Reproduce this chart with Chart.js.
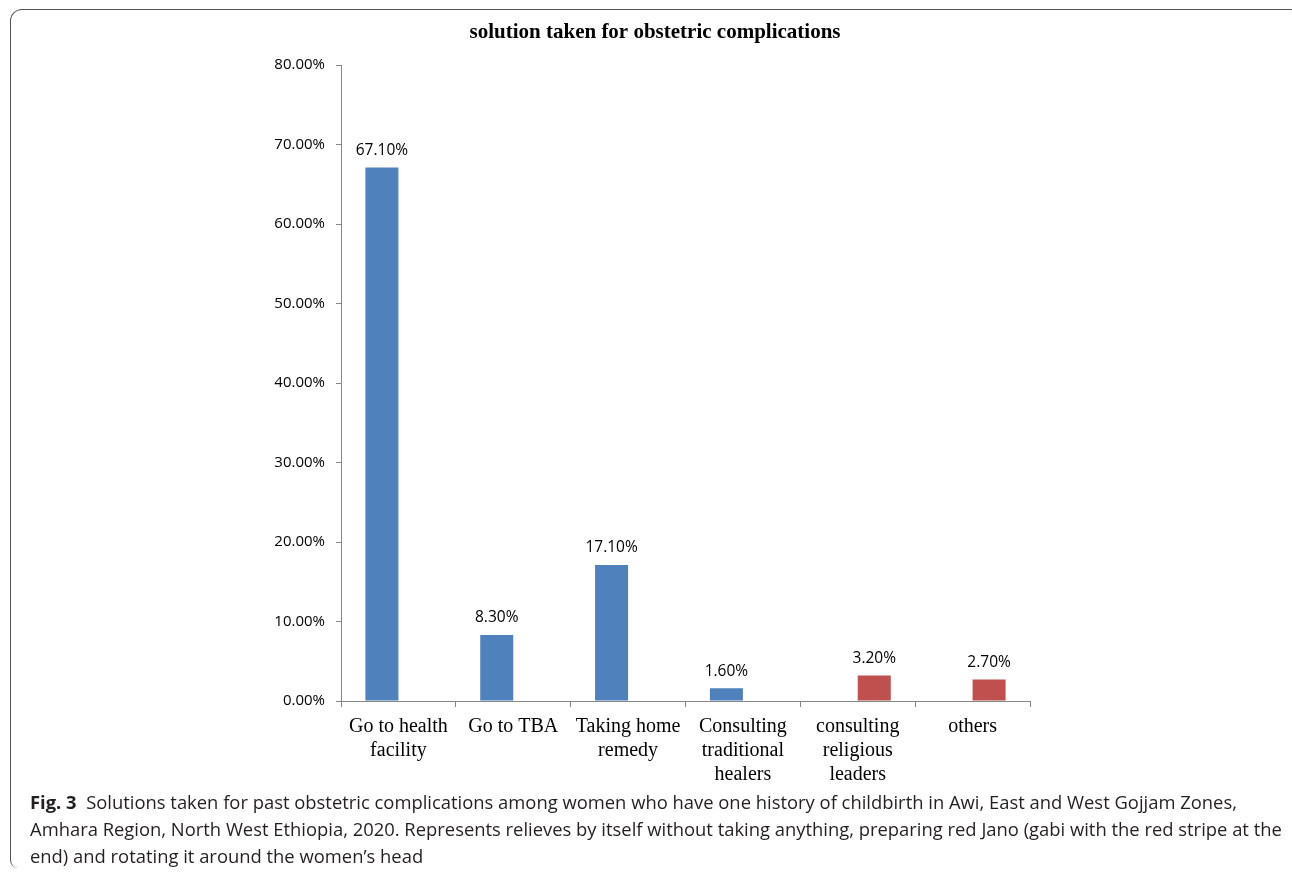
<!DOCTYPE html>
<html>
<head>
<meta charset="utf-8">
<script src="https://cdn.jsdelivr.net/npm/chart.js@4/dist/chart.umd.min.js"></script>
<style>
  body { margin: 0; background: #fff; width: 1292px; height: 873px; overflow: hidden; position: relative; }
  #frame {
    position: absolute; left: 10px; top: 9px; width: 1290px; height: 859px;
    border-top: 1.5px solid #555; border-left: 1.5px solid #555; border-right: 1.5px solid #555;
    border-top-left-radius: 12px; border-top-right-radius: 10px; border-bottom-left-radius: 8px;
    box-sizing: border-box;
  }
  #grafico { position: absolute; left: 0; top: 0; }
  #legenda {
    position: absolute; left: 30px; top: 788px; width: 1250px;
    font-family: "Open Sans", sans-serif; font-size: 18.4px; line-height: 27px; color: #231f20;
    white-space: nowrap;
  }
</style>
</head>
<body>
<div id="frame"></div>
<canvas id="grafico" width="1292" height="790"></canvas>
<div id="legenda"><b>Fig. 3</b>&nbsp; Solutions taken for past obstetric complications among women who have one history of childbirth in Awi, East and West Gojjam Zones,<br>Amhara Region, North West Ethiopia, 2020. Represents relieves by itself without taking anything, preparing red Jano (gabi with the red stripe at the<br>end) and rotating it around the women’s head</div>
<script>
// dados (%)
const categorias = [
  ["Go to health", "facility"],
  "Go to TBA",
  ["Taking home", "remedy"],
  ["Consulting", "traditional", "healers"],
  ["consulting", "religious", "leaders"],
  "others"
];
const serieAzul = [67.1, 8.3, 17.1, 1.6, null, null];
const serieVermelha = [null, null, null, null, 3.2, 2.7];
const ticksY = [0, 10, 20, 30, 40, 50, 60, 70, 80];
const titulo = "solution taken for obstetric complications";

const corEixo = "#868686";

const rotulos = {
  id: "rotulos",
  afterDatasetsDraw(chart) {
    const ctx = chart.ctx;
    ctx.save();
    ctx.font = '15.5px "Open Sans"';
    ctx.fillStyle = "#000";
    ctx.textAlign = "center";
    ctx.textBaseline = "middle";
    chart.data.datasets.forEach(function (ds, i) {
      chart.getDatasetMeta(i).data.forEach(function (bar, j) {
        let v = ds.data[j];
        if (v == null) return;
        ctx.fillText(v.toFixed(2) + "%", bar.x, bar.y - 17);
      });
    });
    ctx.restore();
  },
  afterDraw(chart) {
    const ctx = chart.ctx;
    ctx.save();
    ctx.font = 'bold 21px "Liberation Serif"';
    ctx.fillStyle = "#000";
    ctx.textAlign = "center";
    ctx.textBaseline = "middle";
    ctx.fillText(titulo, 655, 33);
    ctx.restore();
  }
};

const ctx = document.getElementById("grafico").getContext("2d");
window.grafico = new Chart(ctx, {
  type: "bar",
  data: {
    labels: categorias,
    datasets: [
      { label: "a", data: serieAzul, backgroundColor: "#4F81BD", categoryPercentage: 0.575, barPercentage: 1 },
      { label: "b", data: serieVermelha, backgroundColor: "#C0504D", categoryPercentage: 0.575, barPercentage: 1 }
    ]
  },
  options: {
    responsive: false,
    animation: false,
    layout: { padding: { left: 0, right: 262, top: 65, bottom: 0 } },
    plugins: { legend: { display: false }, title: { display: false }, tooltip: { enabled: false } },
    scales: {
      x: {
        offset: true,
        grid: { offset: true, drawOnChartArea: false, drawTicks: true, tickLength: 6, color: corEixo, lineWidth: 1 },
        border: { display: true, color: corEixo, width: 1 },
        ticks: {
          autoSkip: false, maxRotation: 0, padding: 8, color: "#000",
          font: { family: "Liberation Serif", size: 20, lineHeight: 1.2 }
        },
        afterFit: function (scale) { scale.height = 89; }
      },
      y: {
        min: 0, max: 80,
        afterBuildTicks: function (scale) { scale.ticks = ticksY.map(v => ({ value: v })); },
        grid: { drawOnChartArea: false, drawTicks: true, tickLength: 5, color: corEixo },
        border: { display: true, color: corEixo, width: 1 },
        ticks: {
          padding: 11, color: "#000",
          font: { family: "Open Sans", size: 15 },
          callback: function (v) { return v.toFixed(2) + "%"; }
        },
        afterFit: function (scale) { scale.width = 341; }
      }
    }
  },
  plugins: [rotulos]
});
</script>
</body>
</html>
